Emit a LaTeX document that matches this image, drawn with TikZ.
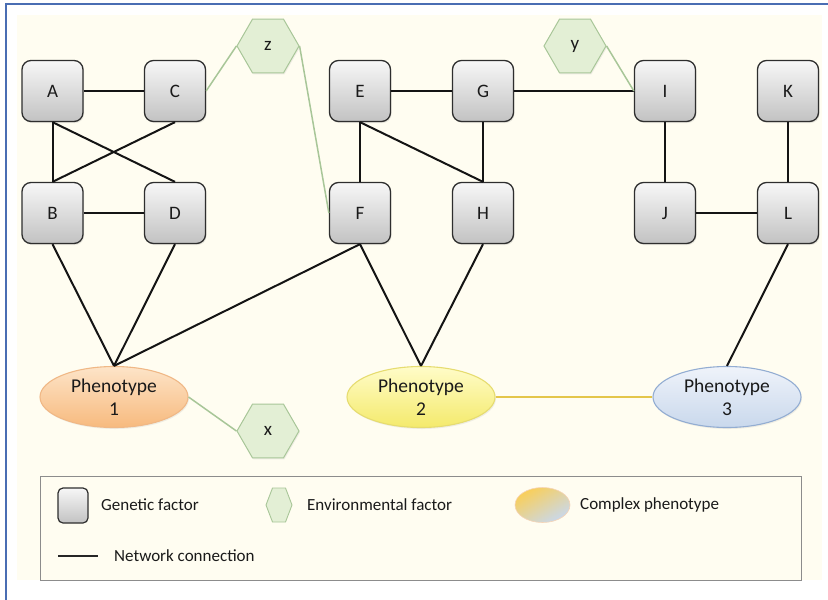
\documentclass[tikz,border=0pt]{standalone}
\usepackage{fontspec}
\setmainfont{Carlito}
\usetikzlibrary{shapes.geometric,shadows}
\definecolor{cream}{HTML}{FFFDF1}
\definecolor{frameblue}{HTML}{4A6DB3}
\definecolor{boxborder}{HTML}{2E2E2E}
\definecolor{boxtop}{HTML}{F7F7F7}
\definecolor{boxbot}{HTML}{C2C2C2}
\definecolor{envfill}{HTML}{E3EFD5}
\definecolor{envborder}{HTML}{A8C698}
\definecolor{textc}{HTML}{1A1A1A}
\definecolor{ponetop}{HTML}{FDE4C8}
\definecolor{ponebot}{HTML}{F7BA7E}
\definecolor{poneborder}{HTML}{F0B886}
\definecolor{ptwotop}{HTML}{FFFCC8}
\definecolor{ptwobot}{HTML}{F4EA6C}
\definecolor{ptwoborder}{HTML}{E6DC70}
\definecolor{pthreetop}{HTML}{EFF3FA}
\definecolor{pthreebot}{HTML}{C9D8EC}
\definecolor{pthreeborder}{HTML}{93ADD2}
\definecolor{phlinkc}{HTML}{E4C64A}
\definecolor{legborder}{HTML}{8C8C8C}
\begin{document}
\begin{tikzpicture}[x=1pt,y=-1pt,
  gene/.style={draw=boxborder, line width=1.3pt, rounded corners=9pt,
    minimum width=61pt, minimum height=61pt, inner sep=0pt,
    top color=boxtop, bottom color=boxbot, text=textc,
    font=\fontsize{19}{23}\selectfont,
    drop shadow={opacity=0.18, shadow xshift=1pt, shadow yshift=-1.5pt}},
  env/.style={regular polygon, regular polygon sides=6, minimum size=62pt,
    inner sep=0pt, draw=envborder, line width=1pt, fill=envfill, text=textc,
    font=\fontsize{19}{23}\selectfont,
    drop shadow={opacity=0.12, shadow xshift=1pt, shadow yshift=-1.5pt}},
  pheno/.style={ellipse, minimum width=148pt, minimum height=61pt,
    inner sep=0pt, align=center, line width=1.1pt, text=textc,
    font=\fontsize{19.5}{23}\selectfont,
    drop shadow={opacity=0.12, shadow xshift=1pt, shadow yshift=-1.5pt}},
  link/.style={line width=2pt, black!92},
  envlink/.style={line width=1.5pt, envborder},
  phlink/.style={line width=2.4pt, phlinkc},
  legtext/.style={anchor=west, inner sep=0pt, text=textc,
    font=\fontsize{17}{20}\selectfont}
]
\useasboundingbox (0,0) rectangle (828,600);
\fill[white] (0,0) rectangle (828,600);
\fill[cream] (17,15) rectangle (822,580);
\draw[frameblue, line width=2.2pt] (6,612) -- (6,4) -- (840,4);

% genetic factors
\node[gene] (A) at (52.5,91) {A};
\node[gene] (C) at (175,91) {C};
\node[gene] (B) at (52.5,213) {B};
\node[gene] (D) at (175,213) {D};
\node[gene] (E) at (360,91) {E};
\node[gene] (G) at (483,91) {G};
\node[gene] (F) at (360,213) {F};
\node[gene] (H) at (483,213) {H};
\node[gene] (I) at (665,91) {I};
\node[gene] (K) at (788,91) {K};
\node[gene] (J) at (665,213) {J};
\node[gene] (L) at (788,213) {L};

% environmental factors
\node[env] (z) at (268,46) {z};
\node[env] (y) at (575,46) {y};
\node[env] (x) at (268,431) {x};

% phenotypes
\node[pheno, draw=poneborder, top color=ponetop, bottom color=ponebot] (P1) at (114,397) {Phenotype\\1};
\node[pheno, draw=ptwoborder, top color=ptwotop, bottom color=ptwobot] (P2) at (421,397) {Phenotype\\2};
\node[pheno, draw=pthreeborder, top color=pthreetop, bottom color=pthreebot] (P3) at (727,397) {Phenotype\\3};

% network connections
\draw[link] (A.east) -- (C.west);
\draw[link] (A.south) -- (B.north);
\draw[link] (A.south) -- (D.north);
\draw[link] (C.south) -- (B.north);
\draw[link] (B.east) -- (D.west);
\draw[link] (B.south) -- (P1.north);
\draw[link] (D.south) -- (P1.north);
\draw[link] (F.south) -- (P1.north);
\draw[link] (F.south) -- (P2.north);
\draw[link] (H.south) -- (P2.north);
\draw[link] (E.east) -- (G.west);
\draw[link] (G.east) -- (I.west);
\draw[link] (E.south) -- (F.north);
\draw[link] (E.south) -- (H.north);
\draw[link] (G.south) -- (H.north);
\draw[link] (I.south) -- (J.north);
\draw[link] (K.south) -- (L.north);
\draw[link] (J.east) -- (L.west);
\draw[link] (L.south) -- (P3.north);

\draw[envlink] (C.east) -- (z.west);
\draw[envlink] (z.east) -- (F.west);
\draw[envlink] (y.east) -- (I.west);
\draw[envlink] (P1.east) -- (x.west);
\draw[phlink] (P2.east) -- (P3.west);

% legend
\draw[legborder, line width=0.9pt] (40,476) rectangle (801,580);
\draw[boxborder, line width=1.2pt, rounded corners=5pt, top color=boxtop, bottom color=boxbot]
  (58,488) rectangle (88,523);
\node[legtext] (lgen) at (101,505) {Genetic factor};
\draw[envborder, line width=0.9pt, fill=envfill]
  (266,505) -- (272.5,488) -- (285.5,488) -- (292,505) -- (285.5,522) -- (272.5,522) -- cycle;
\node[legtext] (lenv) at (307,505) {Environmental factor};
\shade[shading=axis, top color=ponebot!70!yellow, middle color=ponebot, bottom color=pthreebot, shading angle=30]
  (542.5,505) ellipse [x radius=27.5, y radius=17.5];
\draw[poneborder!60!white, line width=0.6pt] (542.5,505) ellipse [x radius=27.5, y radius=17.5];
\node[legtext] (lph) at (580,505) {Complex phenotype};
\coordinate (ln1) at (58,556);
\coordinate (ln2) at (98,556);
\draw[line width=1.8pt, black!85] (ln1) -- (ln2);
\node[legtext] (lnet) at (114,556) {Network connection};
\end{tikzpicture}
\end{document}
